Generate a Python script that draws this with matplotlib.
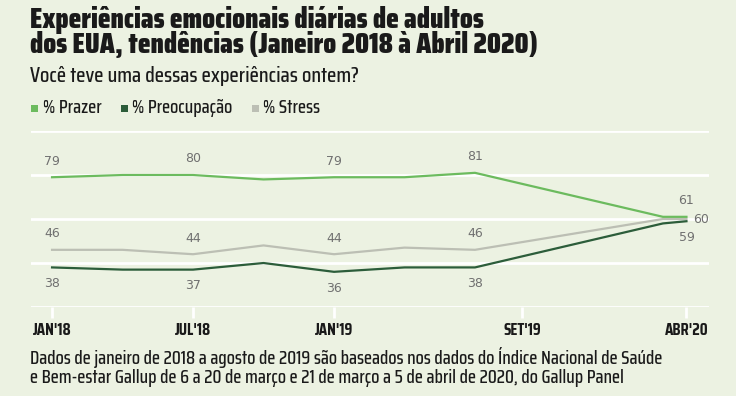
import numpy as np
import matplotlib.pyplot as plt
from matplotlib.patches import Rectangle

cond = ['Saira Condensed', 'IBM Plex Sans Condensed', 'DejaVu Sans']
plt.rcParams['font.family'] = cond

# months since Jan 2018
months = [0, 3, 6, 9, 12, 15, 18, 26, 27]
prazer = [79, 80, 80, 78, 79, 79, 81, 61, 61]
preocupacao = [38, 37, 37, 40, 36, 38, 38, 58, 59]
stress = [46, 46, 44, 48, 44, 47, 46, 60, 60]

tick_pos = [0, 6, 12, 20, 27]
tick_labels = ["JAN'18", "JUL'18", "JAN'19", "SET'19", "ABR'20"]
label_idx = [0, 2, 4, 6]

bg = '#ecf2e2'
c_prazer = '#6cbb5e'
c_preoc = '#2c5d3a'
c_stress = '#bcbfb4'
c_val = '#707070'
c_txt = '#1a1a1a'

fig = plt.figure(figsize=(7.36, 3.96), dpi=100)
fig.patch.set_facecolor(bg)
ax = fig.add_axes([0.042, 0.2247, 0.921, 0.4444])
ax.set_facecolor(bg)

for g in [20, 40, 60, 80, 100]:
    ax.axhline(g, color='white', lw=2, zorder=1)

ax.plot(months, stress, color=c_stress, lw=1.6, zorder=3)
ax.plot(months, preocupacao, color=c_preoc, lw=1.6, zorder=4)
ax.plot(months, prazer, color=c_prazer, lw=1.6, zorder=5)

vfont = dict(fontsize=9, color=c_val, family='DejaVu Sans')
for i in label_idx:
    ax.annotate(str(prazer[i]), (months[i], prazer[i]), xytext=(0, 7), textcoords='offset points',
                ha='center', va='bottom', **vfont)
    ax.annotate(str(stress[i]), (months[i], stress[i]), xytext=(0, 7), textcoords='offset points',
                ha='center', va='bottom', **vfont)
    ax.annotate(str(preocupacao[i]), (months[i], preocupacao[i]), xytext=(0, -7), textcoords='offset points',
                ha='center', va='top', **vfont)
ax.annotate(str(prazer[-1]), (months[-1], prazer[-1]), xytext=(0, 7), textcoords='offset points',
            ha='center', va='bottom', **vfont)
ax.annotate(str(stress[-1]), (months[-1], stress[-1]), xytext=(5, 0), textcoords='offset points',
            ha='left', va='center', **vfont)
ax.annotate(str(preocupacao[-1]), (months[-1], preocupacao[-1]), xytext=(0, -7), textcoords='offset points',
            ha='center', va='top', **vfont)

ax.set_xlim(-0.9, 27.95)
ax.set_ylim(20, 100)
ax.set_yticks([])
ax.set_xticks(tick_pos)
ax.set_xticklabels(tick_labels, fontsize=12, fontweight='bold', color=c_txt)
ax.tick_params(axis='x', length=8, width=2, color='white', pad=3)
for s in ax.spines.values():
    s.set_visible(False)

fig.text(0.041, 0.985, "Experiências emocionais diárias de adultos\ndos EUA, tendências (Janeiro 2018 à Abril 2020)",
         fontsize=21, fontweight=900, color=c_txt, va='top', ha='left', linespacing=0.86)
fig.text(0.041, 0.808, "Você teve uma dessas experiências ontem?", fontsize=15.5, fontweight=500, color=c_txt,
         va='center', ha='left')

# legend
leg = [("% Prazer", c_prazer, 0.042), ("% Preocupação", c_preoc, 0.164), ("% Stress", c_stress, 0.342)]
for name, col, x in leg:
    fig.patches.append(Rectangle((x, 0.718), 0.0095, 0.018, transform=fig.transFigure,
                                 facecolor=col, edgecolor='none'))
    fig.text(x + 0.016, 0.727, name, fontsize=13.5, fontweight=500, color=c_txt, va='center', ha='left')

fig.text(0.041, 0.096, "Dados de janeiro de 2018 a agosto de 2019 são baseados nos dados do Índice Nacional de Saúde",
         fontsize=13.5, fontweight=500, color=c_txt, va='center', ha='left')
fig.text(0.041, 0.045, "e Bem-estar Gallup de 6 a 20 de março e 21 de março a 5 de abril de 2020, do Gallup Panel",
         fontsize=13.5, fontweight=500, color=c_txt, va='center', ha='left')

fig.savefig('out.png', dpi=100, facecolor=bg)
